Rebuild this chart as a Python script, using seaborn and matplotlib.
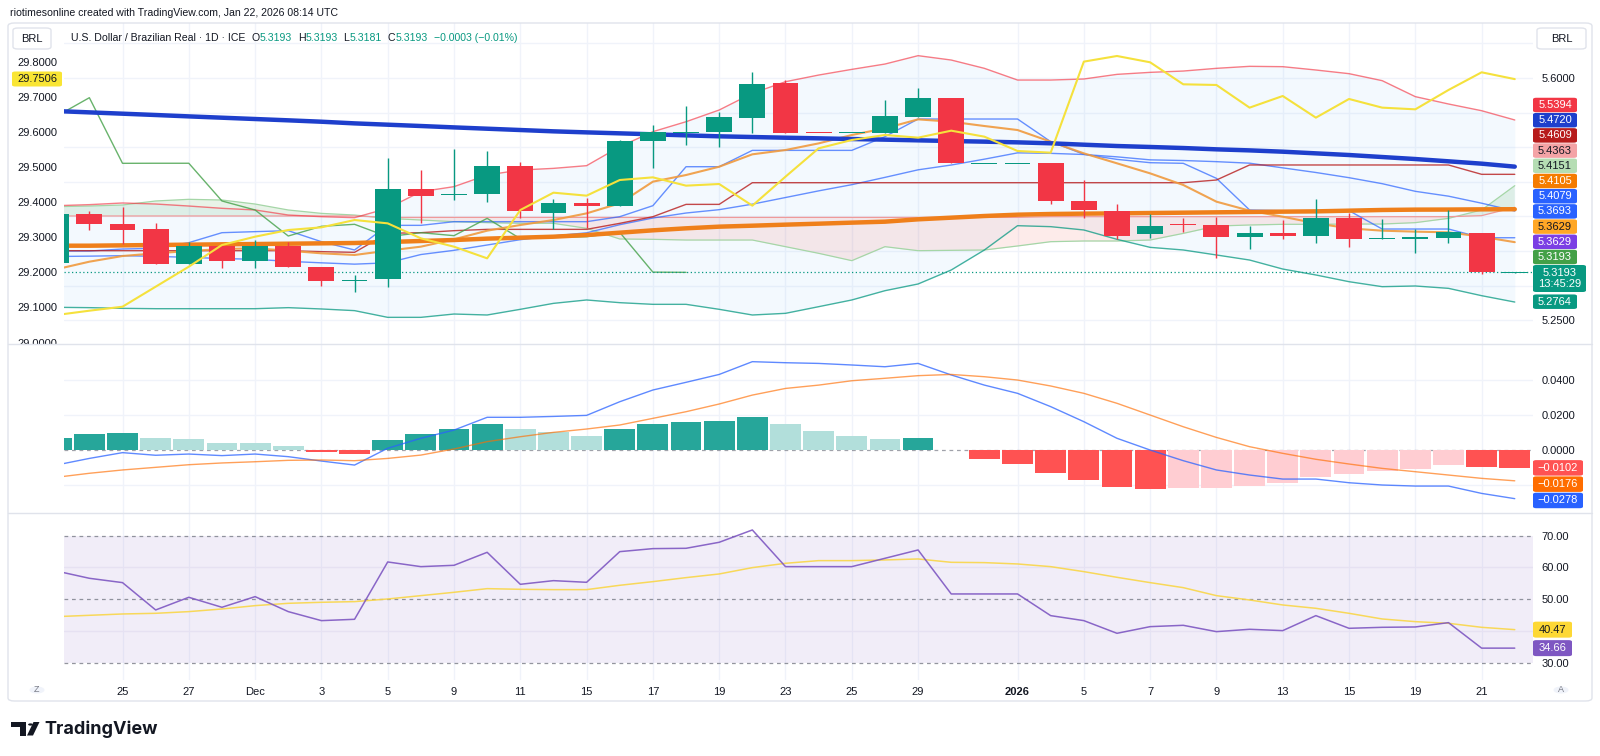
import matplotlib
matplotlib.use("Agg")
import numpy as np
import pandas as pd
import matplotlib.pyplot as plt
import seaborn as sns
from matplotlib.patches import FancyBboxPatch, Rectangle, Circle, Polygon
from matplotlib.lines import Line2D

# ---------------- data ----------------
dates = pd.bdate_range("2025-11-21", "2026-01-22")
tick_days = ["2025-11-25", "2025-11-27", "2025-12-01", "2025-12-03", "2025-12-05", "2025-12-09",
             "2025-12-11", "2025-12-15", "2025-12-17", "2025-12-19", "2025-12-23", "2025-12-25",
             "2025-12-29", "2026-01-01", "2026-01-05", "2026-01-07", "2026-01-09", "2026-01-13",
             "2026-01-15", "2026-01-19", "2026-01-21"]
tick_text = ["25", "27", "Dec", "3", "5", "9", "11", "15", "17", "19", "23", "25", "29",
             "2026", "5", "7", "9", "13", "15", "19", "21"]

open_ = [5.3333, 5.4036, 5.3896, 5.3819, 5.3318, 5.3578, 5.3362, 5.3578, 5.3275, 5.3078,
         5.3097, 5.4397, 5.4320, 5.4325, 5.4734, 5.4055, 5.4190, 5.4151, 5.5095, 5.5211,
         5.5220, 5.5427, 5.5923, 5.5216, 5.5215, 5.5206, 5.5442, 5.5716, 5.4768, 5.4768,
         5.4772, 5.4228, 5.4074, 5.3747, 5.3901, 5.3882, 5.3708, 5.3766, 5.3723, 5.3973,
         5.3680, 5.3689, 5.3694, 5.3766, 5.3193]
high = [5.4050, 5.4079, 5.4142, 5.3911, 5.3627, 5.3578, 5.3660, 5.3636, 5.3275, 5.3155,
        5.4840, 5.4671, 5.4970, 5.4946, 5.4782, 5.4252, 5.4262, 5.5105, 5.5321, 5.5601,
        5.5504, 5.6082, 5.5971, 5.5216, 5.5216, 5.5682, 5.5861, 5.5716, 5.4769, 5.4769,
        5.4772, 5.4527, 5.4175, 5.4036, 5.3973, 5.3988, 5.3867, 5.3949, 5.4248, 5.4045,
        5.3964, 5.3814, 5.4094, 5.3766, 5.3193]
low = [5.3320, 5.3805, 5.3602, 5.3318, 5.3318, 5.3251, 5.3261, 5.3265, 5.3001, 5.2904,
       5.2986, 5.3901, 5.4238, 5.4214, 5.3973, 5.3819, 5.3829, 5.4151, 5.4705, 5.5037,
       5.5008, 5.5201, 5.5211, 5.5215, 5.5215, 5.5206, 5.5442, 5.4768, 5.4768, 5.4768,
       5.4180, 5.3973, 5.3680, 5.3689, 5.3771, 5.3405, 5.3525, 5.3670, 5.3612, 5.3564,
       5.3680, 5.3477, 5.3612, 5.3164, 5.3181]
close = [5.4036, 5.3887, 5.3809, 5.3318, 5.3578, 5.3362, 5.3578, 5.3265, 5.3073, 5.3097,
         5.4397, 5.4301, 5.4334, 5.4734, 5.4084, 5.4190, 5.4151, 5.5095, 5.5215, 5.5230,
         5.5432, 5.5913, 5.5211, 5.5215, 5.5216, 5.5446, 5.5716, 5.4768, 5.4769, 5.4769,
         5.4224, 5.4094, 5.3718, 5.3858, 5.3887, 5.3708, 5.3766, 5.3723, 5.3973, 5.3680,
         5.3699, 5.3708, 5.3771, 5.3196, 5.3193]

ma_long = [5.5523, 5.5504, 5.5485, 5.5466, 5.5446, 5.5427, 5.5408, 5.5389, 5.5369, 5.5345,
           5.5326, 5.5307, 5.5287, 5.5268, 5.5249, 5.5230, 5.5215, 5.5201, 5.5187, 5.5172,
           5.5158, 5.5148, 5.5138, 5.5129, 5.5119, 5.5110, 5.5100, 5.5090, 5.5081, 5.5071,
           5.5057, 5.5037, 5.5018, 5.5004, 5.4989, 5.4970, 5.4955, 5.4936, 5.4912, 5.4888,
           5.4859, 5.4830, 5.4797, 5.4763, 5.4720]
ma_mid = [5.3578, 5.3578, 5.3583, 5.3588, 5.3593, 5.3598, 5.3602, 5.3607, 5.3612, 5.3617,
          5.3631, 5.3646, 5.3660, 5.3680, 5.3694, 5.3708, 5.3732, 5.3766, 5.3800, 5.3829,
          5.3853, 5.3867, 5.3882, 5.3896, 5.3911, 5.3925, 5.3959, 5.3983, 5.4007, 5.4026,
          5.4036, 5.4041, 5.4045, 5.4050, 5.4055, 5.4060, 5.4065, 5.4070, 5.4074, 5.4084,
          5.4094, 5.4099, 5.4100, 5.4103, 5.4105]
ma_fast = [5.3237, 5.3347, 5.3429, 5.3468, 5.3501, 5.3530, 5.3540, 5.3506, 5.3468, 5.3444,
           5.3506, 5.3564, 5.3670, 5.3795, 5.3877, 5.3949, 5.4045, 5.4190, 5.4503, 5.4599,
           5.4719, 5.4898, 5.4960, 5.5056, 5.5177, 5.5273, 5.5403, 5.5369, 5.5307, 5.5249,
           5.5081, 5.4912, 5.4768, 5.4623, 5.4455, 5.4214, 5.4084, 5.3997, 5.3901, 5.3829,
           5.3795, 5.3781, 5.3771, 5.3708, 5.3629]
bb_upper = [5.4156, 5.4171, 5.4195, 5.4180, 5.4151, 5.4118, 5.4094, 5.4021, 5.3997, 5.3983,
            5.4118, 5.4358, 5.4431, 5.4599, 5.4671, 5.4695, 5.4734, 5.5008, 5.5225, 5.5369,
            5.5538, 5.5779, 5.5947, 5.6043, 5.6125, 5.6202, 5.6323, 5.6260, 5.6140, 5.5971,
            5.5971, 5.5986, 5.6053, 5.6082, 5.6101, 5.6140, 5.6169, 5.6164, 5.6116, 5.6063,
            5.5962, 5.5731, 5.5625, 5.5528, 5.5394]
bb_lower = [5.2688, 5.2683, 5.2673, 5.2668, 5.2668, 5.2668, 5.2668, 5.2683, 5.2664, 5.2640,
            5.2543, 5.2543, 5.2591, 5.2577, 5.2659, 5.2745, 5.2794, 5.2755, 5.2731, 5.2731,
            5.2659, 5.2577, 5.2601, 5.2697, 5.2794, 5.2928, 5.3025, 5.3227, 5.3516, 5.3867,
            5.3853, 5.3805, 5.3670, 5.3554, 5.3516, 5.3444, 5.3371, 5.3241, 5.3155, 5.3058,
            5.2986, 5.2996, 5.2962, 5.2856, 5.2764]
tenkan = [5.3501, 5.3501, 5.3530, 5.3540, 5.3622, 5.3766, 5.3781, 5.3795, 5.3636, 5.3516,
          5.3872, 5.3872, 5.3925, 5.3925, 5.3925, 5.3925, 5.3925, 5.3997, 5.4156, 5.4719,
          5.4719, 5.4955, 5.4955, 5.4955, 5.4955, 5.5153, 5.5408, 5.5408, 5.5408, 5.5408,
          5.5081, 5.4898, 5.4825, 5.4777, 5.4768, 5.4551, 5.4094, 5.4084, 5.4084, 5.4084,
          5.3819, 5.3819, 5.3819, 5.3693, 5.3693]
kijun = [5.3506, 5.3506, 5.3506, 5.3506, 5.3506, 5.3506, 5.3506, 5.3506, 5.3492, 5.3482,
         5.3757, 5.3766, 5.3795, 5.3814, 5.3814, 5.3814, 5.3814, 5.3901, 5.3997, 5.4175,
         5.4175, 5.4488, 5.4488, 5.4488, 5.4488, 5.4488, 5.4488, 5.4488, 5.4488, 5.4488,
         5.4488, 5.4488, 5.4488, 5.4488, 5.4488, 5.4527, 5.4744, 5.4744, 5.4744, 5.4744,
         5.4744, 5.4744, 5.4744, 5.4609, 5.4609]
lead_a = [5.4142, 5.4151, 5.4166, 5.4224, 5.4248, 5.4238, 5.4180, 5.4094, 5.4045, 5.4021,
          5.3973, 5.3949, 5.3925, 5.3911, 5.3901, 5.3901, 5.3829, 5.3675, 5.3670, 5.3660,
          5.3660, 5.3660, 5.3564, 5.3468, 5.3362, 5.3564, 5.3506, 5.3511, 5.3516, 5.3574,
          5.3636, 5.3646, 5.3646, 5.3660, 5.3756, 5.3862, 5.3877, 5.3887, 5.3887, 5.3891,
          5.3891, 5.3911, 5.3973, 5.4094, 5.4445]
lead_b = [5.4007, 5.4007, 5.4007, 5.4007, 5.4007, 5.4007, 5.4007, 5.4007, 5.4007, 5.4007,
          5.3987, 5.3987, 5.3987, 5.3987, 5.3987, 5.3987, 5.3987, 5.3987, 5.3987, 5.3987,
          5.3987, 5.3987, 5.3987, 5.3987, 5.3987, 5.3987, 5.3987, 5.3987, 5.3987, 5.3987,
          5.3997, 5.3997, 5.3997, 5.3997, 5.3997, 5.3997, 5.3997, 5.3997, 5.3997, 5.3997,
          5.3997, 5.3997, 5.3997, 5.4012, 5.4132]
cloud_ahead = [5.4363, 5.4151]
other_study = 5.3629
countdown = "13:45:29"

# second symbol on the left scale
other_symbol = [29.0783, 29.0907, 29.1021, 29.1591, 29.2161, 29.2779, 29.3016, 29.3206, 29.3282, 29.3491,
                29.3396, 29.2969, 29.2731, 29.2399, 29.3776, 29.4270, 29.4185, 29.4631, 29.4707, 29.4470,
                29.4517, 29.3900, 29.4726, 29.5534, 29.5771, 29.5914, 29.5838, 29.6037, 29.5866, 29.5458,
                29.5410, 29.8004, 29.8165, 29.7985, 29.7358, 29.7339, 29.6693, 29.7025, 29.6408, 29.6940,
                29.6693, 29.6645, 29.7196, 29.7700, 29.7506]

macd_hist = [0.0067, 0.0091, 0.0097, 0.0067, 0.0061, 0.0040, 0.0040, 0.0021, -0.0010, -0.0025,
             0.0057, 0.0091, 0.0118, 0.0149, 0.0118, 0.0103, 0.0082, 0.0122, 0.0149, 0.0158,
             0.0166, 0.0189, 0.0149, 0.0110, 0.0078, 0.0063, 0.0069, 0.0000, -0.0050, -0.0080,
             -0.0131, -0.0171, -0.0213, -0.0225, -0.0219, -0.0218, -0.0206, -0.0187, -0.0152, -0.0137,
             -0.0122, -0.0109, -0.0086, -0.0099, -0.0102]
macd_line = [-0.0086, -0.0048, -0.0015, -0.0030, -0.0023, -0.0032, -0.0023, -0.0038, -0.0063, -0.0086,
             0.0010, 0.0067, 0.0114, 0.0187, 0.0187, 0.0192, 0.0198, 0.0276, 0.0343, 0.0387,
             0.0432, 0.0505, 0.0499, 0.0495, 0.0486, 0.0476, 0.0495, 0.0429, 0.0371, 0.0324,
             0.0248, 0.0162, 0.0067, 0.0000, -0.0061, -0.0114, -0.0143, -0.0166, -0.0166, -0.0187,
             -0.0200, -0.0206, -0.0206, -0.0248, -0.0278]
macd_signal = [-0.0156, -0.0133, -0.0114, -0.0099, -0.0084, -0.0074, -0.0067, -0.0059, -0.0057, -0.0061,
               -0.0048, -0.0029, 0.0006, 0.0048, 0.0076, 0.0101, 0.0120, 0.0143, 0.0181, 0.0219,
               0.0263, 0.0314, 0.0352, 0.0371, 0.0396, 0.0410, 0.0425, 0.0432, 0.0419, 0.0400,
               0.0366, 0.0324, 0.0267, 0.0200, 0.0133, 0.0072, 0.0019, -0.0019, -0.0053, -0.0080,
               -0.0105, -0.0124, -0.0143, -0.0162, -0.0176]

rsi = [58.90, 56.60, 55.24, 46.65, 50.63, 47.49, 50.84, 46.13, 43.30, 43.72,
       61.73, 60.26, 60.68, 64.76, 54.71, 55.86, 55.34, 64.97, 65.92, 66.02,
       67.91, 71.78, 60.26, 60.26, 60.26, 62.88, 65.50, 51.68, 51.68, 51.68,
       44.87, 43.30, 39.32, 41.41, 41.83, 39.84, 40.58, 40.16, 44.87, 40.89,
       41.20, 41.31, 42.67, 34.66, 34.66]
rsi_ma = [44.55, 44.97, 45.39, 45.60, 46.13, 46.96, 48.01, 48.74, 49.06, 49.27,
          50.10, 51.15, 52.20, 53.35, 53.14, 53.04, 53.04, 54.40, 55.55, 56.81,
          57.96, 59.95, 61.31, 62.15, 62.15, 62.36, 62.67, 61.62, 61.52, 61.10,
          60.26, 58.69, 56.91, 55.24, 53.66, 51.15, 49.79, 48.22, 47.17, 45.60,
          43.82, 42.98, 42.46, 41.20, 40.47]

# ---------------- frame ----------------
W, H = 1600, 756
UP, DOWN = "#089981", "#f23645"
INK = "#131722"
GRID = "#f0f3fa"

sns.set_theme(style="white")
plt.rcParams["font.family"] = ["Liberation Sans", "DejaVu Sans"]
plt.rcParams["axes.unicode_minus"] = True

df = pd.DataFrame({
    "i": np.arange(len(dates)), "open": open_, "high": high, "low": low, "close": close,
    "ma_long": ma_long, "ma_mid": ma_mid, "ma_fast": ma_fast,
    "bb_upper": bb_upper, "bb_lower": bb_lower,
    "tenkan": tenkan, "kijun": kijun, "lead_a": lead_a, "lead_b": lead_b,
    "other": other_symbol, "hist": macd_hist, "macd": macd_line, "signal": macd_signal,
    "rsi": rsi, "rsi_ma": rsi_ma,
})
df["basis"] = (df["bb_upper"] + df["bb_lower"]) / 2
lag = pd.DataFrame({"i": df["i"].iloc[25:].values - 25, "v": df["close"].iloc[25:].values})
tick_idx = [dates.get_loc(pd.Timestamp(d)) for d in tick_days]

fig = plt.figure(figsize=(W / 100, H / 100), dpi=100)


def fx(x):
    return x / W


def fy(y):
    return 1 - y / H


def box(x0, y0, x1, y1):
    return [fx(x0), fy(y1), (x1 - x0) / W, (y1 - y0) / H]


PL, PR = 64, 1533
ax = fig.add_axes(box(PL, 23, PR, 344))
ax_m = fig.add_axes(box(PL, 344, PR, 513), sharex=ax)
ax_r = fig.add_axes(box(PL, 513, PR, 680), sharex=ax)
for a in (ax, ax_m, ax_r):
    for s in a.spines.values():
        s.set_visible(False)
    a.set_facecolor("white")
    for t in tick_idx:
        a.axvline(t, color=GRID, lw=1, zorder=0)

XLIM = (0.235, 44.55)
PRICE_LIM = (5.2158, 5.6795)
LEFT_LIM = (28.9958, 29.9105)


def line(a, col, color, lw, alpha=1.0, z=3, data=df):
    sns.lineplot(data=data, x="i", y=col, ax=a, color=color, linewidth=lw, alpha=alpha,
                 zorder=z, legend=False, errorbar=None)


# ---------------- price panel ----------------
for v in np.arange(5.25, 5.66, 0.05):
    ax.axhline(v, color=GRID, lw=1, zorder=0)

ax.fill_between(df["i"], df["bb_upper"], df["bb_lower"], color="#2196f3", alpha=0.05, lw=0, zorder=1)
ax.fill_between(df["i"], df["lead_a"], df["lead_b"], where=df["lead_a"] >= df["lead_b"],
                interpolate=True, color="#43a047", alpha=0.12, lw=0, zorder=1)
ax.fill_between(df["i"], df["lead_a"], df["lead_b"], where=df["lead_a"] < df["lead_b"],
                interpolate=True, color="#f44336", alpha=0.1, lw=0, zorder=1)
line(ax, "lead_a", "#a5d6a7", 0.9, z=2)
line(ax, "lead_b", "#ef9a9a", 0.9, z=2)
line(ax, "bb_upper", "#f23645", 1.0, 0.65)
line(ax, "bb_lower", "#089981", 1.0, 0.75)
line(ax, "basis", "#2962ff", 1.0, 0.7)
line(ax, "tenkan", "#2962ff", 1.0, 0.7)
line(ax, "kijun", "#b71c1c", 1.0, 0.8)
sns.lineplot(data=lag, x="i", y="v", ax=ax, color="#43a047", linewidth=1.0, alpha=0.8, zorder=3, legend=False)
line(ax, "ma_fast", "#f09a3e", 1.5, 0.9)
line(ax, "ma_mid", "#ef7f1a", 3.2, z=4)
line(ax, "ma_long", "#1e3fcc", 3.2, z=4)
ax.axhline(close[-1], color=UP, lw=0.9, ls=(0, (1, 2)), zorder=4)

cols = np.where(df["close"] >= df["open"], UP, DOWN)
min_h = (PRICE_LIM[1] - PRICE_LIM[0]) / 321 * 1.6
body_lo = np.minimum(df["open"], df["close"])
body_h = np.maximum((df["close"] - df["open"]).abs(), min_h)
ax.vlines(df["i"], df["low"], df["high"], colors=cols, lw=1, zorder=5)
ax.bar(df["i"], body_h, bottom=body_lo - np.where(body_h == min_h, min_h / 2, 0),
       width=0.78, color=cols, lw=0, zorder=6)
ax.set_ylim(*PRICE_LIM)

# left scale (second symbol)
ax_l = ax.twinx()
ax_l.patch.set_visible(False)
for s in ax_l.spines.values():
    s.set_visible(False)
line(ax_l, "other", "#f5e13c", 1.5, z=5)
ax_l.set_ylim(*LEFT_LIM)
ax_l.yaxis.tick_left()
lt = np.round(np.arange(29.0, 29.81, 0.1), 1)
ax_l.set_yticks(lt)
ax_l.set_yticklabels([f"{v:.4f}" for v in lt])
ax_l.tick_params(axis="y", left=True, labelleft=True, right=False, labelright=False,
                 length=0, pad=5, labelsize=8, labelcolor=INK)
ax_l.tick_params(axis="x", length=0, labelbottom=False)

# right scale of the price panel (set after twinx, which moves it)
ax.set_yticks([5.25, 5.6])
ax.set_yticklabels([f"{v:.4f}" for v in (5.25, 5.6)])
ax.tick_params(axis="y", left=False, labelleft=False, right=True, labelright=True,
               length=0, pad=6, labelsize=8, labelcolor=INK)
ax.tick_params(axis="x", length=0, labelbottom=False)
for a in (ax, ax_l):
    a.set_xlabel("")
    a.set_ylabel("")

# ---------------- MACD panel ----------------
for v in (-0.02, 0.02, 0.04):
    ax_m.axhline(v, color=GRID, lw=1, zorder=0)
ax_m.axhline(0, color="#787b86", lw=0.9, ls=(0, (3, 3)), alpha=0.7, zorder=1)
h = df["hist"].values
prev = np.r_[-np.inf, h[:-1]]
rise = h > prev
hcol = np.where(h >= 0, np.where(rise, "#26a69a", "#b2dfdb"), np.where(rise, "#ffcdd2", "#ff5252"))
ax_m.bar(df["i"], h, width=0.93, color=hcol, lw=0, zorder=2)
line(ax_m, "macd", "#2962ff", 1.0, 0.75)
line(ax_m, "signal", "#ff6d00", 1.0, 0.65)
ax_m.set_ylim(-0.036, 0.0606)
ax_m.yaxis.tick_right()
ax_m.set_yticks([0, 0.02, 0.04])
ax_m.set_yticklabels(["0.0000", "0.0200", "0.0400"])
ax_m.tick_params(axis="y", length=0, pad=6, labelsize=8, labelcolor=INK)
ax_m.tick_params(axis="x", length=0, labelbottom=False)
ax_m.set_xlabel("")
ax_m.set_ylabel("")

# ---------------- RSI panel ----------------
ax_r.axhspan(30, 70, color="#7e57c2", alpha=0.1, lw=0, zorder=0)
for v in (40, 60):
    ax_r.axhline(v, color="#e6e1f2", lw=1, zorder=0)
for v in (30, 50, 70):
    ax_r.axhline(v, color="#787b86", lw=0.9, ls=(0, (3, 3)), alpha=0.8, zorder=1)
line(ax_r, "rsi_ma", "#f9d648", 1.1, 0.9)
line(ax_r, "rsi", "#7e57c2", 1.1, 0.9)
ax_r.set_ylim(24.65, 77.11)
ax_r.yaxis.tick_right()
ax_r.set_yticks([30, 50, 60, 70])
ax_r.set_yticklabels(["30.00", "50.00", "60.00", "70.00"])
ax_r.tick_params(axis="y", length=0, pad=6, labelsize=8, labelcolor=INK)
ax_r.set_xticks(tick_idx)
ax_r.set_xticklabels(tick_text)
ax_r.tick_params(axis="x", length=0, pad=5, labelsize=8, labelcolor=INK)
ax_r.get_xticklabels()[tick_text.index("2026")].set_fontweight("bold")
ax_r.set_xlabel("")
ax_r.set_ylabel("")
ax.set_xlim(*XLIM)

# ---------------- overlays: frame, separators, tags ----------------
fig.add_artist(Rectangle((fx(9), fy(512)), (63 - 9) / W, (512 - 344.5) / H,
                         transform=fig.transFigure, fc="white", ec="none", zorder=10))
for yy in (344, 513):
    fig.add_artist(Line2D([fx(8), fx(1592)], [fy(yy), fy(yy)], transform=fig.transFigure,
                          color="#e0e3eb", lw=1, zorder=11))
fig.add_artist(FancyBboxPatch((fx(8), fy(701)), (1592 - 8) / W, (701 - 23) / H,
                              boxstyle="round,pad=0,rounding_size=0.004", transform=fig.transFigure,
                              fill=False, ec="#e0e3eb", lw=1, zorder=12))


def tag(y, text, fc, tc, x0=1533, w=44, hgt=14.5, size=8):
    fig.add_artist(FancyBboxPatch((fx(x0), fy(y + hgt / 2)), w / W, hgt / H,
                                  boxstyle="round,pad=0,rounding_size=0.002",
                                  transform=fig.transFigure, fc=fc, ec="none", zorder=13))
    fig.text(fx(x0 + w / 2), fy(y), text, ha="center", va="center", color=tc, fontsize=size,
             zorder=14, linespacing=1.2)


def data_y(a, v):
    return H - a.transData.transform((0, v))[1]


price_tags = [
    (bb_upper[-1], "#f23645", "white"),
    (ma_long[-1], "#1e3fcc", "white"),
    (kijun[-1], "#b71c1c", "white"),
    (cloud_ahead[0], "#f4a3a6", INK),
    (cloud_ahead[1], "#b5ddb3", INK),
    (ma_mid[-1], "#f57c00", "white"),
    (df["basis"].iloc[-1], "#2962ff", "white"),
    (tenkan[-1], "#2962ff", "white"),
    (ma_fast[-1], "#ffa726", INK),
    (other_study, "#7b3fe4", "white"),
    (close[-1], "#43a047", "white"),
]
for k, (v, fc, tc) in enumerate(price_tags):
    tag(105 + 15.2 * k, f"{v:.4f}", fc, tc)
tag(278.5, f"{close[-1]:.4f}\n{countdown}", UP, "white", w=53, hgt=27)
tag(301.7, f"{bb_lower[-1]:.4f}", UP, "white")

macd_tags = [(macd_hist[-1], "#ff5252"), (macd_signal[-1], "#ff6d00"), (macd_line[-1], "#2962ff")]
prev_y = -1e9
for v, fc in macd_tags:
    yy = max(data_y(ax_m, v), prev_y + 16.3)
    tag(yy, f"{v:.4f}".replace("-", "\u2212"), fc, "white", w=50, hgt=15.5)
    prev_y = yy
tag(data_y(ax_r, rsi_ma[-1]), f"{rsi_ma[-1]:.2f}", "#fdd835", INK, w=39, hgt=16)
tag(data_y(ax_r, rsi[-1]), f"{rsi[-1]:.2f}", "#7e57c2", "white", w=39, hgt=16)

# left-scale last value highlight
fig.add_artist(FancyBboxPatch((fx(12), fy(86.5)), 50 / W, 15 / H, boxstyle="round,pad=0,rounding_size=0.002",
                              transform=fig.transFigure, fc="#f9e534", ec="none", zorder=13))
fig.text(fx(57.5), fy(79.2), f"{other_symbol[-1]:.4f}", ha="right", va="center", color=INK,
         fontsize=8, zorder=14)

# currency buttons
for x0, x1 in ((13, 51), (1537, 1586)):
    fig.add_artist(FancyBboxPatch((fx(x0), fy(49)), (x1 - x0) / W, 21 / H,
                                  boxstyle="round,pad=0,rounding_size=0.003", transform=fig.transFigure,
                                  fc="white", ec="#e0e3eb", lw=1, zorder=13))
    fig.text(fx((x0 + x1) / 2), fy(38.5), "BRL", ha="center", va="center", color=INK, fontsize=8, zorder=14)

# Z / A buttons
for xc, s in ((37, "Z"), (1561, "A")):
    fig.add_artist(Circle((fx(xc), fy(690)), 7.5 / W, transform=fig.transFigure,
                          fc="#f0f3fa", ec="none", zorder=13))
    fig.text(fx(xc), fy(690), s, ha="center", va="center", color="#787b86", fontsize=6.5, zorder=14)

# header lines
fig.text(fx(10), fy(12.5), "riotimesonline created with TradingView.com, Jan 22, 2026 08:14 UTC",
         ha="left", va="center", color=INK, fontsize=7.6)

renderer = fig.canvas.get_renderer()
chg = close[-1] - close[-2]
pieces = [("U.S. Dollar / Brazilian Real \u00b7 1D \u00b7 ICE", INK, 6),
          ("O", INK, 0), (f"{open_[-1]:.4f}", UP, 6),
          ("H", INK, 0), (f"{high[-1]:.4f}", UP, 6),
          ("L", INK, 0), (f"{low[-1]:.4f}", UP, 6),
          ("C", INK, 0), (f"{close[-1]:.4f}", UP, 6),
          (f"{chg:+.4f} ({chg / close[-2] * 100:+.2f}%)".replace("-", "\u2212"), UP, 0)]
xx = 71
for s, c, gap in pieces:
    t = fig.text(fx(xx), fy(38), s, ha="left", va="center", color=c, fontsize=7.6, zorder=14)
    xx += t.get_window_extent(renderer=renderer).width + gap

# TradingView logo
logo = "#131722"
fig.add_artist(Rectangle((fx(11), fy(726.5)), 15 / W, 4.5 / H, transform=fig.transFigure, fc=logo, ec="none"))
fig.add_artist(Rectangle((fx(19.5), fy(735.5)), 6.5 / W, 13.5 / H, transform=fig.transFigure, fc=logo, ec="none"))
fig.add_artist(Circle((fx(30.5), fy(724.5)), 2.4 / W, transform=fig.transFigure, fc=logo, ec="none"))
fig.add_artist(Polygon([(fx(33.5), fy(722)), (fx(39.5), fy(722)), (fx(33), fy(735.5)), (fx(27), fy(735.5))],
                       closed=True, transform=fig.transFigure, fc=logo, ec="none"))
fig.text(fx(44), fy(729), "TradingView", ha="left", va="center", color=logo, fontsize=13,
         fontweight="bold", family=["Inter", "Liberation Sans", "DejaVu Sans"])

fig.savefig("out.png", dpi=100, facecolor="white")
